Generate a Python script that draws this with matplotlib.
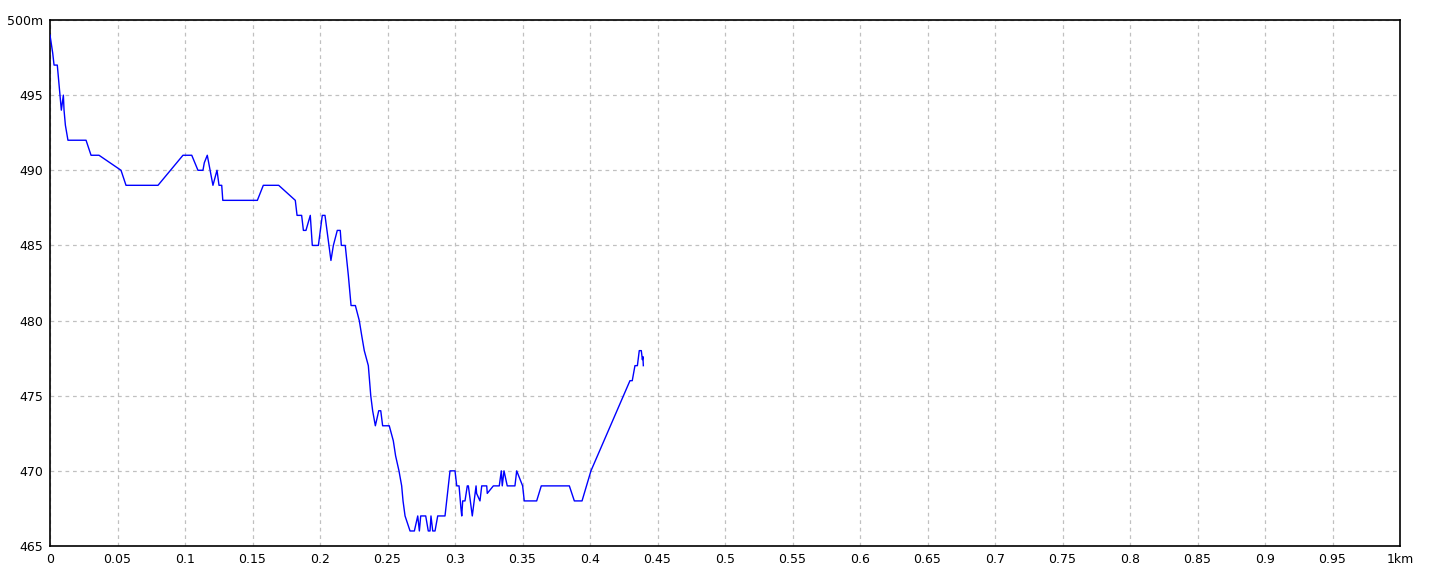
import matplotlib
matplotlib.use('Agg')
import matplotlib.pyplot as plt
import numpy as np

plt.rcParams['font.family'] = ['Liberation Sans Narrow', 'DejaVu Sans']

# ---------- Data ----------
dist_km = [
    0.0000, 0.0005, 0.0020, 0.0030, 0.0054, 0.0074, 0.0084, 0.0099, 0.0104,
    0.0114, 0.0133, 0.0267, 0.0304, 0.0363, 0.0526, 0.0563, 0.0800, 0.0985,
    0.1050, 0.1096, 0.1133, 0.1143, 0.1165, 0.1207, 0.1237, 0.1252, 0.1272,
    0.1280, 0.1536, 0.1580, 0.1694, 0.1817, 0.1830, 0.1864, 0.1877, 0.1896,
    0.1928, 0.1943, 0.1988, 0.2017, 0.2037, 0.2081, 0.2099, 0.2128, 0.2150,
    0.2158, 0.2187, 0.2210, 0.2230, 0.2262, 0.2291, 0.2309, 0.2328, 0.2358,
    0.2376, 0.2390, 0.2410, 0.2435, 0.2450, 0.2464, 0.2513, 0.2543, 0.2560,
    0.2585, 0.2605, 0.2615, 0.2630, 0.2667, 0.2699, 0.2724, 0.2736, 0.2746,
    0.2783, 0.2802, 0.2815, 0.2822, 0.2835, 0.2852, 0.2872, 0.2926, 0.2963,
    0.3000, 0.3013, 0.3030, 0.3044, 0.3050, 0.3057, 0.3074, 0.3091, 0.3099,
    0.3128, 0.3156, 0.3160, 0.3185, 0.3198, 0.3235, 0.3239, 0.3284, 0.3328,
    0.3343, 0.3350, 0.3363, 0.3387, 0.3444, 0.3457, 0.3501, 0.3513, 0.3605,
    0.3639, 0.3847, 0.3884, 0.3941, 0.4007, 0.4296, 0.4313, 0.4333, 0.4351,
    0.4365, 0.4380, 0.4388, 0.4392, 0.4395,
]
elev_m = [
    499.0, 498.7, 497.8, 497.0, 497.0, 495.0, 494.0, 495.0, 494.0,
    493.0, 492.0, 492.0, 491.0, 491.0, 490.0, 489.0, 489.0, 491.0,
    491.0, 490.0, 490.0, 490.5, 491.0, 489.0, 490.0, 489.0, 489.0,
    488.0, 488.0, 489.0, 489.0, 488.0, 487.0, 487.0, 486.0, 486.0,
    487.0, 485.0, 485.0, 487.0, 487.0, 484.0, 485.0, 486.0, 486.0,
    485.0, 485.0, 483.0, 481.0, 481.0, 480.0, 479.0, 478.0, 477.0,
    475.0, 474.0, 473.0, 474.0, 474.0, 473.0, 473.0, 472.0, 471.0,
    470.0, 469.0, 468.0, 467.0, 466.0, 466.0, 467.0, 466.0, 467.0,
    467.0, 466.0, 466.0, 467.0, 466.0, 466.0, 467.0, 467.0, 470.0,
    470.0, 469.0, 469.0, 467.5, 467.0, 468.0, 468.0, 469.0, 469.0,
    467.0, 469.0, 468.5, 468.0, 469.0, 469.0, 468.5, 469.0, 469.0,
    470.0, 469.0, 470.0, 469.0, 469.0, 470.0, 469.0, 468.0, 468.0,
    469.0, 469.0, 468.0, 468.0, 470.0, 476.0, 476.0, 477.0, 477.0,
    478.0, 478.0, 477.4, 477.6, 477.0,
]

x_ticks = [round(0.05 * i, 2) for i in range(21)]
x_labels = ['0' if t == 0 else ('1km' if t == 1 else f'{t:g}') for t in x_ticks]
y_ticks = [465, 470, 475, 480, 485, 490, 495, 500]
y_labels = [str(t) for t in y_ticks[:-1]] + ['500m']

# ---------- Figure ----------
fig = plt.figure(figsize=(14.4, 5.76), dpi=100)
fig.patch.set_facecolor('white')
ax = fig.add_axes([50 / 1440, 30 / 576, 1350 / 1440, 526 / 576])

ax.plot(dist_km, elev_m, color='#0000FF', linewidth=1.0, zorder=3)

ax.set_xlim(0, 1)
ax.set_ylim(465, 500)
ax.set_xticks(x_ticks)
ax.set_xticklabels(x_labels)
ax.set_yticks(y_ticks)
ax.set_yticklabels(y_labels)

ax.tick_params(axis='both', length=0, labelsize=9, colors='black')
ax.tick_params(axis='x', pad=5)
ax.tick_params(axis='y', pad=5)

ax.grid(True, color='#C0C0C0', linestyle=(0, (3, 3)), linewidth=0.9)
ax.set_axisbelow(True)

for s in ax.spines.values():
    s.set_color('black')
    s.set_linewidth(1.2)

fig.savefig('out.png', dpi=100, facecolor='white')
